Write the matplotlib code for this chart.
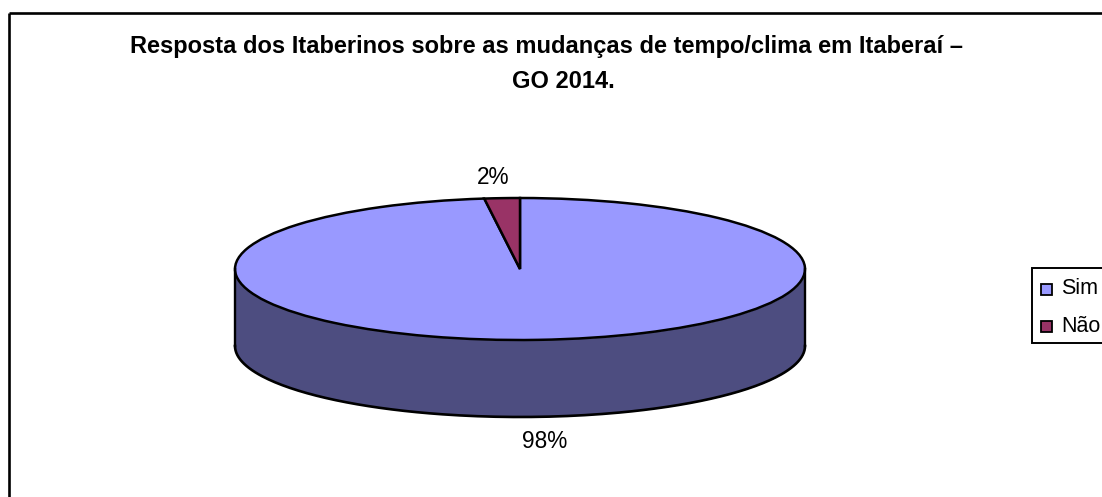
import numpy as np
import matplotlib
matplotlib.use("Agg")
import matplotlib.pyplot as plt
from matplotlib.patches import Rectangle

title_lines = ["Resposta dos Itaberinos sobre as mudanças de tempo/clima em Itaberaí –", "GO 2014."]
categories = ["Sim", "Não"]
values = [98, 2]
labels = ["98%", "2%"]
colors = ["#9999FF", "#993366"]
side_color = "#4D4D80"

W, H = 1102, 497
plt.rcParams["font.family"] = ["Liberation Sans", "DejaVu Sans"]
fig = plt.figure(figsize=(W / 100, H / 100), dpi=100, facecolor="white")


def rect(x0, y0, x1, y1):
    return [x0 / W, 1 - y1 / H, (x1 - x0) / W, (y1 - y0) / H]


# Chart frame and legend box, in figure pixels
bg = fig.add_axes([0, 0, 1, 1], zorder=0)
bg.set_xlim(0, W)
bg.set_ylim(H, 0)
bg.axis("off")
bg.plot([9, 9], [H + 5, 13], color="black", lw=1.9, solid_capstyle="butt")
bg.plot([9, W + 5], [13, 13], color="black", lw=1.9, solid_capstyle="butt")
bg.add_patch(Rectangle((1032, 268), 100, 75, fc="white", ec="black", lw=1.4, clip_on=False))

# Pie top: axes stretched so the unit circle becomes the ellipse
ax = fig.add_axes(rect(235, 198, 805, 340), zorder=1)
depth = 77 / 71
th = np.linspace(np.pi, 2 * np.pi, 200)
xs = np.cos(th)
ys = np.sin(th)
ax.fill_between(xs, ys, ys - depth, color=side_color, lw=0, clip_on=False)
ax.plot(xs, ys - depth, color="black", lw=1.9, clip_on=False)
ax.plot([-1, -1], [0, -depth], color="black", lw=1.7, clip_on=False)
ax.plot([1, 1], [0, -depth], color="black", lw=1.7, clip_on=False)
wedges, _ = ax.pie(values, colors=colors, startangle=90, counterclock=False, radius=1,
                   wedgeprops=dict(edgecolor="black", linewidth=1.8, clip_on=False))
ax.set_aspect("auto")
ax.set_xlim(-1, 1)
ax.set_ylim(-1, 1)
ax.axis("off")

# Data labels
bg.text(545, 442, labels[0], ha="center", va="center", fontsize=16.3, color="black", zorder=3)
bg.text(493, 177, labels[1], ha="center", va="center", fontsize=16.3, color="black", zorder=3)

# Title
bg.text(546, 47, title_lines[0], ha="center", va="center", fontsize=17, fontweight="bold")
bg.text(563, 81, title_lines[1], ha="center", va="center", fontsize=17, fontweight="bold")

# Legend
for cat, col, y in zip(categories, colors, [289, 326]):
    bg.add_patch(Rectangle((1041, y - 5.5), 11, 11, fc=col, ec="black", lw=1.3))
    bg.text(1061, y, cat, ha="left", va="center", fontsize=15.5, color="black", clip_on=False)

fig.savefig("out.png", dpi=100)
